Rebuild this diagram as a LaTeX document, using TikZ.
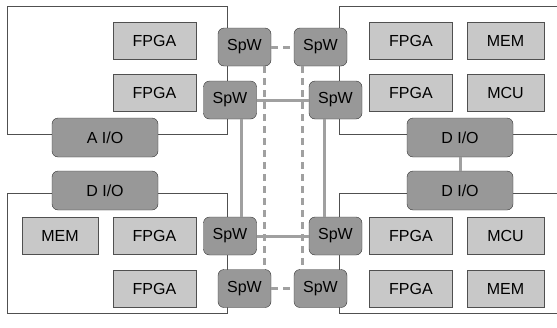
\documentclass[tikz,border=0pt]{standalone}
\usepackage{fontspec}
\setmainfont{Liberation Sans}
\definecolor{chipgray}{RGB}{200,200,200}
\definecolor{linkgray}{RGB}{152,152,152}
\definecolor{linegray}{RGB}{160,160,160}
\definecolor{boardline}{RGB}{80,80,80}

\begin{document}
\begin{tikzpicture}[x=1pt, y=-1pt,
		chip/.style = {draw = boardline, fill = chipgray, minimum width = 83pt, minimum height = 37pt, inner sep = 0pt, font = \fontsize{16}{19}\selectfont},
		spw/.style = {draw = black!80, fill = linkgray, rounded corners = 6pt, minimum width = 53pt, minimum height = 38pt, inner sep = 0pt, font = \fontsize{16}{19}\selectfont},
		io/.style = {spw, minimum width = 106pt, minimum height = 39pt},
		link/.style = {draw = linegray, line width = 3pt},
		spare/.style = {link, dash pattern = on 7pt off 5pt}]
		\useasboundingbox (0,0) rectangle (557,327);
		% boards
		\draw[boardline] (7,6) rectangle (227,134);
		\draw[boardline] (560,6) -- (339,6) -- (339,134) -- (560,134);
		\draw[boardline] (7,193) rectangle (227,313);
		\draw[boardline] (560,193) -- (339,193) -- (339,313) -- (560,313);
		% top left
		\node[chip] (tl1) at (154.5,40.5) {FPGA};
		\node[chip] (tl2) at (154.5,92.5) {FPGA};
		\node[spw] (a1) at (244.5,47) {SpW};
		\node[spw] (a2) at (230,100) {SpW};
		\node[io] (aio) at (105,137.5) {A I/O};
		% top right
		\node[chip] (tr1) at (411,40.5) {FPGA};
		\node[chip, minimum width = 77pt] (tr2) at (505.5,40.5) {MEM};
		\node[chip] (tr3) at (411,92.5) {FPGA};
		\node[chip, minimum width = 77pt] (tr4) at (505.5,92.5) {MCU};
		\node[spw] (b1) at (320.5,47) {SpW};
		\node[spw] (b2) at (335.5,100) {SpW};
		\node[io] (bio) at (460,137.5) {D I/O};
		% bottom left
		\node[io] (cio) at (105,190.5) {D I/O};
		\node[chip, minimum width = 76pt] (bl1) at (60,235.5) {MEM};
		\node[chip] (bl2) at (154.5,235.5) {FPGA};
		\node[chip] (bl3) at (154.5,288.5) {FPGA};
		\node[spw] (c2) at (230,236) {SpW};
		\node[spw] (c1) at (244.5,288.5) {SpW};
		% bottom right
		\node[io] (dio) at (460,190.5) {D I/O};
		\node[chip] (br1) at (411,235.5) {FPGA};
		\node[chip, minimum width = 77pt] (br2) at (505.5,235.5) {MCU};
		\node[chip] (br3) at (411,288.5) {FPGA};
		\node[chip, minimum width = 77pt] (br4) at (505.5,288.5) {MEM};
		\node[spw] (d2) at (335.5,236) {SpW};
		\node[spw] (d1) at (320.5,288.5) {SpW};
		% links
		\draw[spare] (a1) -- (b1);
		\draw[spare] (c1) -- (d1);
		\draw[link] (a2) -- (b2);
		\draw[link] (c2) -- (d2);
		\draw[link] ([xshift = 11pt]a2.south) -- ([xshift = 11pt]c2.north);
		\draw[link] ([xshift = -11pt]b2.south) -- ([xshift = -11pt]d2.north);
		\draw[spare] ([xshift = 19.5pt]a1.south) -- ([xshift = 19.5pt]c1.north);
		\draw[spare] ([xshift = -18.5pt]b1.south) -- ([xshift = -18.5pt]d1.north);
		\draw[link] (bio) -- (dio);
	\end{tikzpicture}
\end{document}
